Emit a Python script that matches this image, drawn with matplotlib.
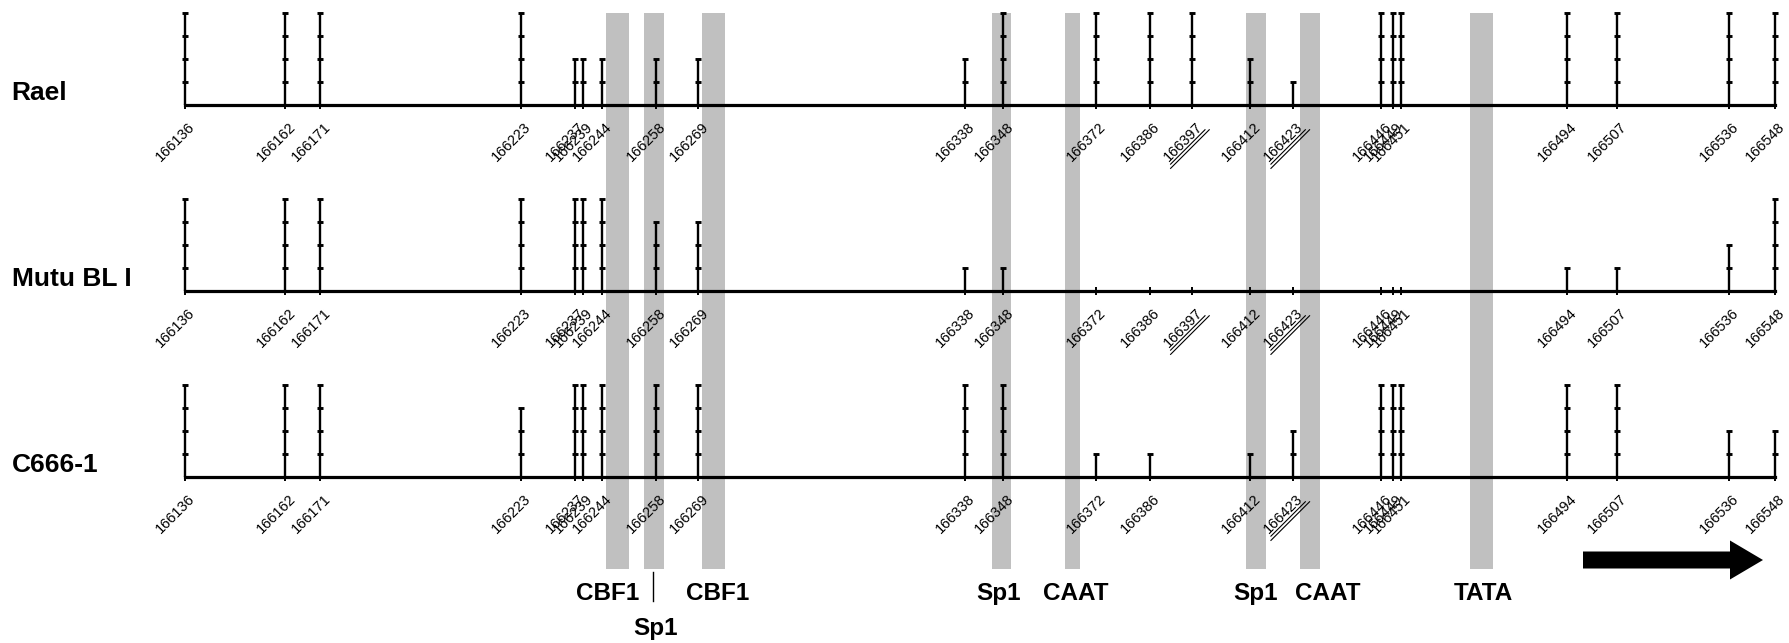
import matplotlib
matplotlib.use("Agg")
import matplotlib.pyplot as plt
from matplotlib.transforms import offset_copy, blended_transform_factory, IdentityTransform
from matplotlib.lines import Line2D
from matplotlib.patches import FancyArrow
import numpy as np

# ---------------- data ----------------
positions = [166136, 166162, 166171, 166223, 166237, 166239, 166244, 166258,
             166269, 166338, 166348, 166372, 166386, 166397, 166412, 166423,
             166446, 166449, 166451, 166494, 166507, 166536, 166548]

row_names = ["Rael", "Mutu BL I", "C666-1"]
rael_levels = [4, 4, 4, 4, 2, 2, 2, 2, 2, 2, 4, 4, 4, 4, 2, 1, 4, 4, 4, 4, 4, 4, 4]
mutu_levels = [4, 4, 4, 4, 4, 4, 4, 3, 3, 1, 1, 0, 0, 0, 0, 0, 0, 0, 0, 1, 1, 2, 4]
c666_levels = [4, 4, 4, 3, 4, 4, 4, 4, 4, 4, 4, 1, 1, None, 1, 2, 4, 4, 4, 4, 4, 2, 2]
underlined = [166397, 166423]

band_starts = [166245, 166255, 166270, 166345, 166364, 166411, 166425, 166469]
band_ends   = [166251, 166260, 166276, 166350, 166368, 166416, 166430, 166475]

site_labels = ["CBF1", "Sp1", "CBF1", "Sp1", "CAAT", "Sp1", "CAAT", "TATA"]
site_label_x = [166245.4, 166257.8, 166273.9, 166346.7, 166366.9, 166413.5, 166432.2, 166472.4]
site_label_low = [False, True, False, False, False, False, False, False]

# ---------------- figure ----------------
W, H = 1789, 643
DPI = 100
plt.rcParams['font.family'] = ['Liberation Sans', 'DejaVu Sans']
fig = plt.figure(figsize=(W / DPI, H / DPI), dpi=DPI)

xmin, xmax = positions[0], positions[-1]
left = 185 / W
width = (1775 - 185) / W

# background axes for the shaded binding-site bands
bg_top, bg_bot = 13, 569
ax_bg = fig.add_axes([left, (H - bg_bot) / H, width, (bg_bot - bg_top) / H], zorder=0)
ax_bg.set_xlim(xmin, xmax)
ax_bg.set_ylim(0, 1)
ax_bg.axis('off')
for s, e in zip(band_starts, band_ends):
    ax_bg.axvspan(s, e, ymin=0, ymax=1, color='#c0c0c0', lw=0)

# site labels below
tr = blended_transform_factory(ax_bg.transData, fig.transFigure)
for lab, x, low in zip(site_labels, site_label_x, site_label_low):
    y = 1 - (635 if low else 600) / H
    ax_bg.text(x, y, lab, transform=tr, ha='center', va='baseline',
               fontsize=17.5, fontweight='bold', clip_on=False)
    if low:
        ax_bg.plot([x - 0.6, x - 0.6], [1 - 571.5 / H, 1 - 601 / H], transform=tr,
                   color='black', lw=1.0, clip_on=False)

# rows
baselines = [105, 291, 477]
all_levels = [rael_levels, mutu_levels, c666_levels]
level_px = 23
fs_tick = 10.5
em = fs_tick * DPI / 72.0
for name, base, levels in zip(row_names, baselines, all_levels):
    ax = fig.add_axes([left, (H - base) / H, width, 4 * level_px / H], zorder=2)
    ax.patch.set_alpha(0)
    ax.set_xlim(xmin, xmax)
    ax.set_ylim(0, 4)
    for sp in ['top', 'right', 'left']:
        ax.spines[sp].set_visible(False)
    ax.spines['bottom'].set_linewidth(2.3)
    ax.set_yticks([])
    pres = [(p, l) for p, l in zip(positions, levels) if l is not None]
    ax.set_xticks([p for p, _ in pres])
    ax.tick_params(axis='x', direction='inout', length=5.5, width=1.4,
                   labelbottom=False)
    for p, l in pres:
        if l > 0:
            ax.vlines(p, 0, l, color='black', lw=1.7, clip_on=False)
            ax.plot([p] * l, np.arange(1, l + 1), ls='none', marker='_',
                    ms=4.2, mew=2.1, color='black', clip_on=False)
    off = offset_copy(ax.transData, fig=fig, x=8, y=-20, units='dots')
    for p, _ in pres:
        lab = str(p)
        ax.text(p, 0, lab, transform=off, rotation=45, rotation_mode='anchor',
                ha='right', va='center', fontsize=fs_tick, clip_on=False)
        if p in underlined:
            ax0 = ax.transData.transform((p, 0))
            A = np.array([ax0[0] + 8, ax0[1] - 20])
            u = np.array([0.7071, 0.7071])
            n = np.array([0.7071, -0.7071])
            w = len(lab) * 0.556 * em
            B = A + 0.35 * em * n
            for d, ext in [(1.6, 0.0), (4.6, 3.0)]:
                p1 = B + d * n + ext * u
                p2 = B - (w + ext) * u + d * n
                fig.add_artist(Line2D([p1[0], p2[0]], [p1[1], p2[1]],
                                      transform=IdentityTransform(),
                                      color='black', lw=0.8))
    fig.text(11.5 / W, 1 - (base - 5) / H, name, ha='left', va='baseline',
             fontsize=19, fontweight='bold')

# direction arrow
arr = FancyArrow(1583 / W, 1 - 560 / H, (1763 - 1583) / W, 0,
                 width=17 / H, head_width=39 / H, head_length=33 / W,
                 length_includes_head=True, transform=fig.transFigure,
                 color='black', lw=0)
fig.add_artist(arr)

fig.savefig("out.png", dpi=DPI)
